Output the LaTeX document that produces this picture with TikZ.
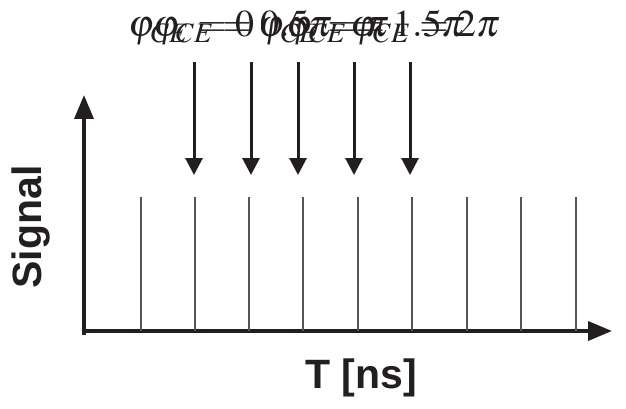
\documentclass[tikz,border=0pt]{standalone}
\usepackage{mathptmx}
\usepackage{fontspec}
\setsansfont{Liberation Sans}
\usetikzlibrary{arrows.meta}
\definecolor{ink}{HTML}{231F20}
\definecolor{pulsegray}{HTML}{555555}
\begin{document}
\begin{tikzpicture}[x=1pt,y=-1pt,
  axis/.style={line width=3.6pt, draw=ink, -{Triangle[length=24pt,width=19pt]}},
  marker/.style={line width=3pt, draw=ink, -{Triangle[length=17pt,width=17pt]}},
  pulse/.style={line width=1.1pt, draw=pulsegray},
  phase/.style={anchor=base west, inner sep=0pt, text=ink, font=\fontsize{38}{44}\selectfont},
  axislabel/.style={inner sep=0pt, text=ink, font=\sffamily\bfseries\fontsize{41}{48}\selectfont}]
\useasboundingbox (0,0) rectangle (626,409);

% axes
\coordinate (origin) at (84,335);
\coordinate (ytip) at (84,95);
\coordinate (xstart) at (82,331);
\coordinate (xtip) at (612,331);
\draw[axis] (origin) -- (ytip);
\draw[axis] (xstart) -- (xtip);

% pulse train
\foreach \i/\x in {1/141,2/195,3/249,4/303,5/358,6/412,7/467,8/521,9/576} {
  \coordinate (ptop\i) at (\x,197);
  \coordinate (pbot\i) at (\x,331);
  \draw[pulse] (ptop\i) -- (pbot\i);
}

% phase markers
\foreach \i/\x in {1/194,2/251,3/298,4/354,5/410} {
  \coordinate (mtop\i) at (\x,62);
  \coordinate (mtip\i) at (\x,175);
  \draw[marker] (mtop\i) -- (mtip\i);
}

% phase labels, set on one crowded line
\node[phase] (lab1) at (128,37) {$\varphi_{CE}=0$};
\node[phase] (lab2) at (153,37) {$\varphi_{CE}=0.5\pi$};
\node[phase] (lab3) at (258,37) {$\varphi_{CE}=\pi$};
\node[phase] (lab4) at (286,37) {$\varphi_{CE}=1.5\pi$};
\node[phase] (lab5) at (350,37) {$\varphi_{CE}=2\pi$};

% axis labels
\node[axislabel, rotate=90] (ylab) at (31,227) {Signal};
\node[axislabel] (xlab) at (361,378) {T [ns]};
\end{tikzpicture}
\end{document}
